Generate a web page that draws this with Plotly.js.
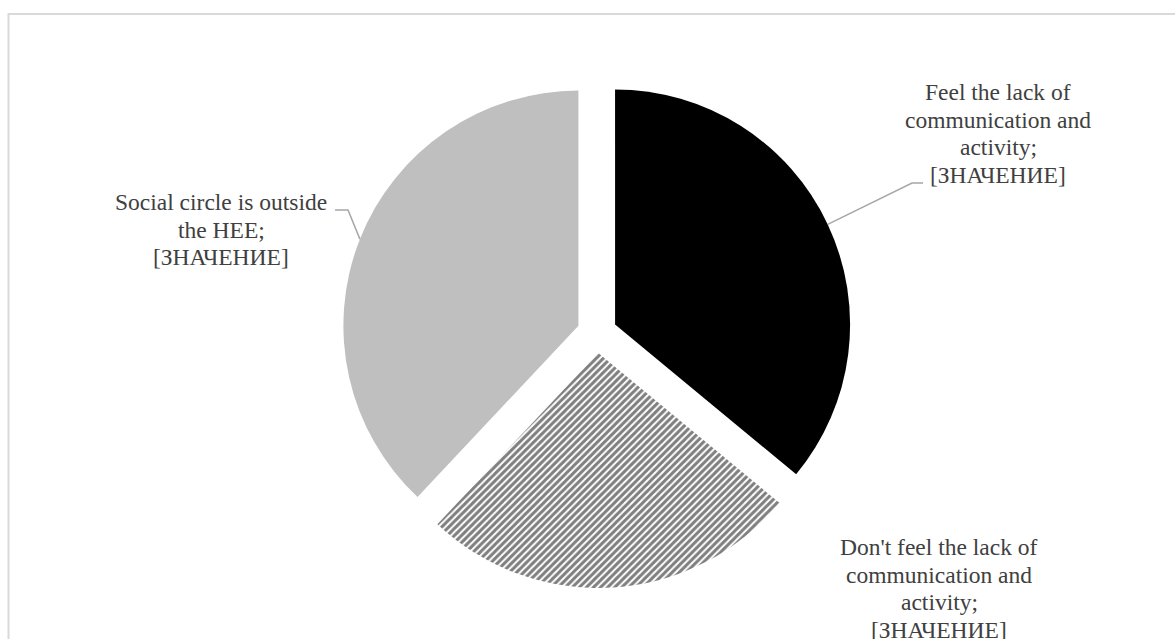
<!DOCTYPE html>
<html>
<head>
<meta charset="utf-8">
<script src="https://cdn.plot.ly/plotly-3.0.1.min.js"></script>
<style>
  html, body { margin: 0; padding: 0; background: #ffffff; }
  #chart { width: 1175px; height: 639px; }
</style>
</head>
<body>
<div id="chart"></div>
<script>
// ---- data ----
const categories = [
  "Feel the lack of communication and activity",
  "Don't feel the lack of communication and activity",
  "Social circle is outside the HEE"
];
const values = [36, 26, 38];
const valuePlaceholder = "[ЗНАЧЕНИЕ]";
const labelLines = [
  ["Feel the lack of", "communication and", "activity;"],
  ["Don't feel the lack of", "communication and", "activity;"],
  ["Social circle is outside", "the HEE;"]
];

// ---- layout geometry (pixels) ----
const W = 1175, H = 639;
const CX = 597, CY = 333, BOX = 510;
const PULL = 0.085;
const R = BOX / (2 + 2 * PULL);
const px = x => x / W;
const py = y => 1 - y / H;

const textColor = "#404040";
const fontFam = "Liberation Serif, Times New Roman, serif";
const fontSize = 23.5;
const lineGap = 27.6;

// label block placements: center x and first line center y (pixels)
const labelPos = [
  { x: 998, y: 92 },
  { x: 939, y: 547 },
  { x: 221, y: 202 }
];

const annotations = [];
labelLines.forEach((lines, i) => {
  const all = lines.concat([valuePlaceholder]);
  all.forEach((t, k) => {
    annotations.push({
      xref: "paper", yref: "paper",
      x: px(labelPos[i].x), y: py(labelPos[i].y + k * lineGap),
      xanchor: "center", yanchor: "middle",
      text: t, showarrow: false,
      font: { family: fontFam, size: fontSize, color: textColor }
    });
  });
});

// leader lines start at arc midpoint of pulled slice
const total = values.reduce((a, b) => a + b, 0);
const mids = [];
let acc = 0;
values.forEach(v => {
  mids.push((acc + v / 2) / total * 360);
  acc += v;
});
function arcPoint(i) {
  const t = mids[i] * Math.PI / 180;
  return [CX + (1 + PULL) * R * Math.sin(t), CY - (1 + PULL) * R * Math.cos(t)];
}
const leaderColor = "#a6a6a6";
const p0 = arcPoint(0);
const p2 = arcPoint(2);
const shapes = [
  {
    type: "path", xref: "paper", yref: "paper",
    path: `M${px(p0[0])},${py(p0[1])} L${px(912)},${py(183)} L${px(923)},${py(183)}`,
    line: { color: leaderColor, width: 1.5 }
  },
  {
    type: "path", xref: "paper", yref: "paper",
    path: `M${px(p2[0])},${py(p2[1])} L${px(348)},${py(210)} L${px(335)},${py(210)}`,
    line: { color: leaderColor, width: 1.5 }
  },
  {
    type: "rect", xref: "paper", yref: "paper",
    x0: px(8.5), x1: px(1185), y0: py(650), y1: py(14),
    line: { color: "#d9d9d9", width: 2 }, fillcolor: "rgba(0,0,0,0)"
  }
];

const trace = {
  type: "pie",
  labels: categories,
  values: values,
  sort: false,
  direction: "clockwise",
  rotation: 0,
  pull: [PULL, PULL, PULL],
  textinfo: "none",
  hoverinfo: "label+value",
  showlegend: false,
  marker: {
    colors: ["#000000", "#ffffff", "#bfbfbf"],
    line: { width: 0 },
    pattern: {
      shape: ["", "/", ""],
      fgcolor: "#000000",
      bgcolor: "#ffffff",
      size: 5,
      solidity: 0.6,
      fillmode: "overlay"
    }
  },
  domain: {
    x: [px(CX - BOX / 2), px(CX + BOX / 2)],
    y: [py(CY + BOX / 2), py(CY - BOX / 2)]
  }
};

const layout = {
  width: W, height: H,
  margin: { l: 0, r: 0, t: 0, b: 0 },
  paper_bgcolor: "#ffffff",
  plot_bgcolor: "#ffffff",
  showlegend: false,
  annotations: annotations,
  shapes: shapes
};

Plotly.newPlot("chart", [trace], layout, { displayModeBar: false, staticPlot: true });
</script>
</body>
</html>
